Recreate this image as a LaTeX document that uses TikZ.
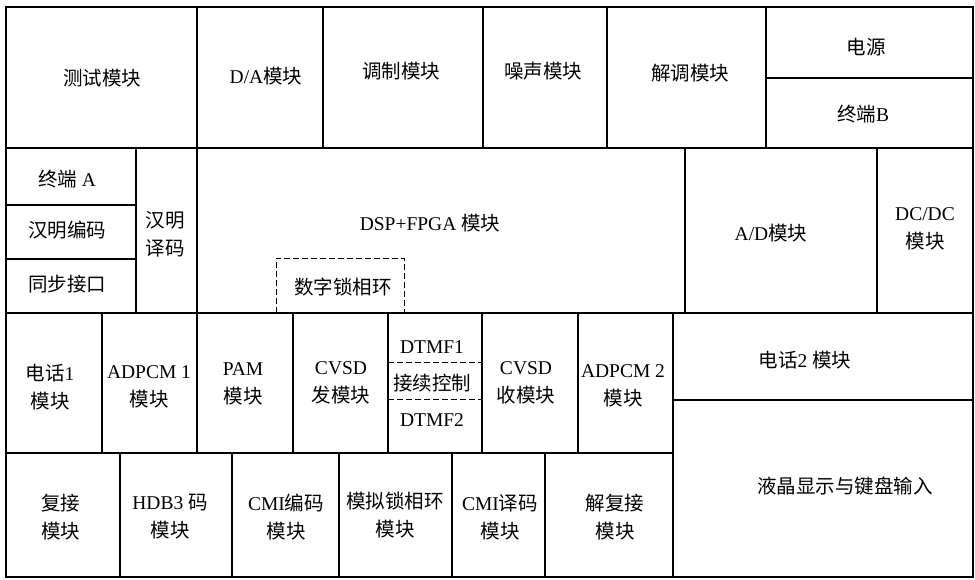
\documentclass[tikz,border=0pt]{standalone}
\usepackage{fontspec}
\setmainfont{Liberation Serif}
\newfontfamily\cjk{Noto Sans CJK SC}
\newcommand\zh[1]{{\cjk #1}}
\begin{document}
\begin{tikzpicture}[x=1pt,y=-1pt,
  cell/.style={draw,line width=1.4pt},
  lbl/.style={font=\fontsize{19.5}{28}\selectfont, align=center, inner sep=0pt},
  dsh/.style={draw,line width=0.8pt, dash pattern=on 6pt off 3pt}]
\useasboundingbox (0,0) rectangle (975,579);
% Row 1
\draw[cell] (6,7) rectangle (197,148);
\draw[cell] (197,7) rectangle (323,148);
\draw[cell] (323,7) rectangle (483,148);
\draw[cell] (483,7) rectangle (607,148);
\draw[cell] (607,7) rectangle (766,148);
\draw[cell] (766,7) rectangle (973,78);
\draw[cell] (766,78) rectangle (973,148);
\node[lbl] (ceshi) at (102,78) {\zh{测试模块}};
\node[lbl] (da) at (266,76) {D/A\zh{模块}};
\node[lbl] (tiaozhi) at (401,71) {\zh{调制模块}};
\node[lbl] (zaosheng) at (543,71) {\zh{噪声模块}};
\node[lbl] (jietiao) at (690,73) {\zh{解调模块}};
\node[lbl] (dianyuan) at (866,47) {\zh{电源}};
\node[lbl] (zdb) at (863,114) {\zh{终端}B};
% Row 2
\draw[cell] (6,148) rectangle (136,205);
\draw[cell] (6,205) rectangle (136,259);
\draw[cell] (6,259) rectangle (136,313);
\draw[cell] (136,148) rectangle (197,313);
\draw[cell] (197,148) rectangle (685,313);
\draw[cell] (685,148) rectangle (877,313);
\draw[cell] (877,148) rectangle (973,313);
\draw[dsh] (276,313) -- (276,258) -- (404,258) -- (404,313);
\node[lbl] (zda) at (67,179) {\zh{终端} A};
\node[lbl] (hmbm) at (67,230) {\zh{汉明编码}};
\node[lbl] (tbjk) at (67,284) {\zh{同步接口}};
\node[lbl] (hmym) at (165,234) {\zh{汉明}\\\zh{译码}};
\node[lbl] (dsp) at (430,223) {DSP+FPGA \zh{模块}};
\node[lbl] (szsxh) at (343,287) {\zh{数字锁相环}};
\node[lbl] (ad) at (771,233) {A/D\zh{模块}};
\node[lbl] (dcdc) at (925,229) {DC/DC\\\zh{模块}};
% Row 3
\draw[cell] (6,313) rectangle (102,453);
\draw[cell] (102,313) rectangle (197,453);
\draw[cell] (197,313) rectangle (293,453);
\draw[cell] (293,313) rectangle (388,453);
\draw[cell] (388,313) rectangle (482,453);
\draw[cell] (482,313) rectangle (578,453);
\draw[cell] (578,313) rectangle (673,453);
\draw[cell] (673,313) rectangle (973,400);
\draw[dsh] (388,362) -- (482,362);
\draw[dsh] (388,399) -- (482,399);
\node[lbl] (dh1) at (50,387) {\zh{电话}1\\\zh{模块}};
\node[lbl] (adpcm1) at (149,387) {ADPCM 1\\\zh{模块}};
\node[lbl] (pam) at (243,384) {PAM\\\zh{模块}};
\node[lbl] (cvsdf) at (341,383) {CVSD\\\zh{发模块}};
\node[lbl] (dtmf1) at (432,347) {DTMF1};
\node[lbl] (jxkz) at (432,383) {\zh{接续控制}};
\node[lbl] (dtmf2) at (432,420) {DTMF2};
\node[lbl] (cvsds) at (526,383) {CVSD\\\zh{收模块}};
\node[lbl] (adpcm2) at (623,386) {ADPCM 2\\\zh{模块}};
\node[lbl] (dh2) at (805,360) {\zh{电话}2 \zh{模块}};
% Row 4
\draw[cell] (6,453) rectangle (120,577);
\draw[cell] (120,453) rectangle (232,577);
\draw[cell] (232,453) rectangle (339,577);
\draw[cell] (339,453) rectangle (452,577);
\draw[cell] (452,453) rectangle (545,577);
\draw[cell] (545,453) rectangle (673,577);
\draw[cell] (673,400) rectangle (973,577);
\node[lbl] (fj) at (61,517) {\zh{复接}\\\zh{模块}};
\node[lbl] (hdb3) at (170,517) {HDB3 \zh{码}\\\zh{模块}};
\node[lbl] (cmib) at (286,517) {CMI\zh{编码}\\\zh{模块}};
\node[lbl] (mnsxh) at (395,515) {\zh{模拟锁相环}\\\zh{模块}};
\node[lbl] (cmiy) at (500,517) {CMI\zh{译码}\\\zh{模块}};
\node[lbl] (jfj) at (615,517) {\zh{解复接}\\\zh{模块}};
\node[lbl] (yj) at (845,486) {\zh{液晶显示与键盘输入}};
\end{tikzpicture}
\end{document}
